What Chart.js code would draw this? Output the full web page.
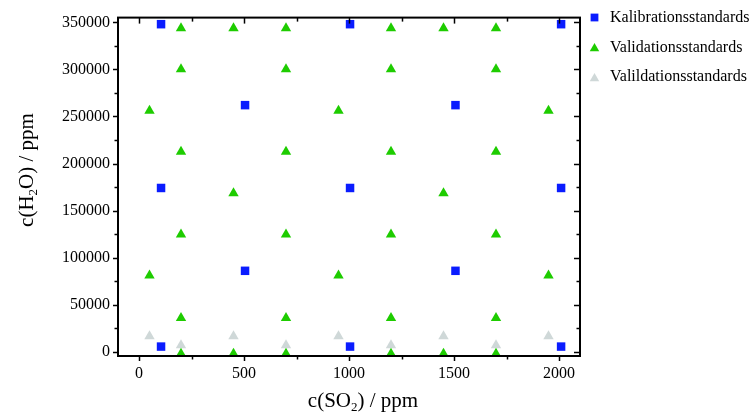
<!DOCTYPE html>
<html>
<head>
<meta charset="utf-8">
<script src="https://cdn.jsdelivr.net/npm/chart.js@4/dist/chart.umd.min.js"></script>
<style>
  body { margin: 0; background: #fff; }
  canvas { display: block; }
</style>
</head>
<body>
<canvas id="chart" width="752" height="415"></canvas>
<script>
// Daten
const seriesNames = ['Kalibrationsstandards', 'Validationsstandards', 'Valildationsstandards'];

const calX = [105, 1005, 2010, 505, 1507, 105, 1005, 2010, 505, 1507, 105, 1005, 2010];
const calY = [348000, 348000, 348000, 262000, 262000, 174000, 174000, 174000, 86000, 86000, 5500, 5500, 5500];

const valX = [200, 450, 700, 1200, 1450, 1700,
              200, 700, 1200, 1700,
              50, 950, 1950,
              200, 700, 1200, 1700,
              450, 1450,
              200, 700, 1200, 1700,
              50, 950, 1950,
              200, 700, 1200, 1700,
              200, 450, 700, 1200, 1450, 1700];
const valY = [343750, 343750, 343750, 343750, 343750, 343750,
              300000, 300000, 300000, 300000,
              256000, 256000, 256000,
              212500, 212500, 212500, 212500,
              168500, 168500,
              124500, 124500, 124500, 124500,
              81000, 81000, 81000,
              36000, 36000, 36000, 36000,
              -2000, -2000, -2000, -2000, -2000, -2000];

const val2X = [50, 450, 950, 1450, 1950, 200, 700, 1200, 1700];
const val2Y = [16500, 16500, 16500, 16500, 16500, 7000, 7000, 7000, 7000];

const xTicks = [0, 500, 1000, 1500, 2000];
const xMinor = [250, 750, 1250, 1750];
const yTicks = [0, 50000, 100000, 150000, 200000, 250000, 300000, 350000];
const yMinor = [25000, 75000, 125000, 175000, 225000, 275000, 325000];

const FONT = '"Liberation Serif", "Times New Roman", serif';
const colors = ['#0a1cff', '#1ecc00', '#cfd8d8'];
const styles = ['rect', 'triangle', 'triangle'];

function toPoints(xs, ys) {
    return xs.map((v, i) => ({ x: v, y: ys[i] }));
}

// Text mit Tiefstellung zeichnen
function drawParts(ctx, parts, cx, cy) {
    let total = 0;
    parts.forEach(p => {
        ctx.font = p[1] + 'px ' + FONT;
        total += ctx.measureText(p[0]).width;
    });
    let x = cx - total / 2;
    parts.forEach(p => {
        ctx.font = p[1] + 'px ' + FONT;
        ctx.fillText(p[0], x, cy + p[2]);
        x += ctx.measureText(p[0]).width;
    });
}

// Rahmen, Ticks, Achsentitel und Legende
const decor = {
    id: 'decor',
    afterDraw(chart) {
        const ctx = chart.ctx;
        const a = chart.chartArea;
        const xs = chart.scales.x;
        const ys = chart.scales.y;
        ctx.save();
        ctx.strokeStyle = '#000';
        ctx.lineWidth = 1.5;
        const line = (x1, y1, x2, y2) => {
            ctx.beginPath();
            ctx.moveTo(x1, y1);
            ctx.lineTo(x2, y2);
            ctx.stroke();
        };
        xTicks.concat(xMinor).forEach(v => {
            const major = xTicks.includes(v);
            const px = Math.round(xs.getPixelForValue(v)) + 0.5;
            line(px, a.bottom, px, a.bottom + (major ? 5 : 3.5));
            line(px, a.top, px, a.top + (major ? 6 : 4));
        });
        yTicks.concat(yMinor).forEach(v => {
            const major = yTicks.includes(v);
            const py = Math.round(ys.getPixelForValue(v)) + 0.5;
            line(a.left, py, a.left - (major ? 5 : 3.5), py);
            line(a.right, py, a.right - (major ? 6 : 3.5), py);
        });
        ctx.lineWidth = 2;
        ctx.strokeRect(a.left, a.top, a.right - a.left, a.bottom - a.top);

        // Achsentitel
        ctx.fillStyle = '#000';
        ctx.textBaseline = 'alphabetic';
        ctx.textAlign = 'left';
        drawParts(ctx, [['c(SO', 21, 0], ['2', 13, 4], [') / ppm', 21, 0]], 363, 407);
        ctx.save();
        ctx.translate(33, 170);
        ctx.rotate(-Math.PI / 2);
        drawParts(ctx, [['c(H', 21, 0], ['2', 13, 4], ['O) / ppm', 21, 0]], 0, 0);
        ctx.restore();

        // Legende
        const legendY = [17.5, 48.5, 78.5];
        const textY = [21.7, 51.5, 81];
        chart.data.datasets.forEach((ds, i) => {
            ctx.fillStyle = ds.backgroundColor;
            Chart.helpers.drawPoint(ctx, {
                pointStyle: ds.pointStyle,
                radius: 5.5,
                rotation: 0,
                borderWidth: 0
            }, 594.5, legendY[i]);
            ctx.fillStyle = '#000';
            ctx.font = '16px ' + FONT;
            ctx.fillText(ds.label, 610, textY[i]);
        });
        ctx.restore();
    }
};

new Chart(document.getElementById('chart'), {
    type: 'scatter',
    data: {
        datasets: [
            { label: seriesNames[0], data: toPoints(calX, calY) },
            { label: seriesNames[1], data: toPoints(valX, valY) },
            { label: seriesNames[2], data: toPoints(val2X, val2Y) }
        ].map((d, i) => Object.assign(d, {
            pointStyle: styles[i],
            backgroundColor: colors[i],
            borderColor: colors[i],
            pointBorderWidth: 0,
            pointRadius: 6,
            pointHoverRadius: 6,
            clip: false
        }))
    },
    options: {
        responsive: false,
        animation: false,
        layout: {
            autoPadding: false,
            padding: { left: 0, top: 13, right: 172, bottom: 0 }
        },
        plugins: {
            legend: { display: false },
            tooltip: { enabled: false }
        },
        scales: {
            x: {
                type: 'linear',
                min: -100,
                max: 2100,
                afterBuildTicks: s => { s.ticks = xTicks.map(v => ({ value: v })); },
                afterFit: s => { s.height = 59; },
                grid: { display: false, drawTicks: false },
                border: { display: false },
                ticks: {
                    padding: 8,
                    maxRotation: 0,
                    color: '#000',
                    font: { family: FONT, size: 16 },
                    callback: v => String(v)
                }
            },
            y: {
                type: 'linear',
                min: -4500,
                max: 355000,
                afterBuildTicks: s => { s.ticks = yTicks.map(v => ({ value: v })); },
                afterFit: s => { s.width = 118; },
                grid: { display: false, drawTicks: false },
                border: { display: false },
                ticks: {
                    padding: 8,
                    color: '#000',
                    font: { family: FONT, size: 16 },
                    callback: v => String(v)
                }
            }
        }
    },
    plugins: [decor]
});
</script>
</body>
</html>
